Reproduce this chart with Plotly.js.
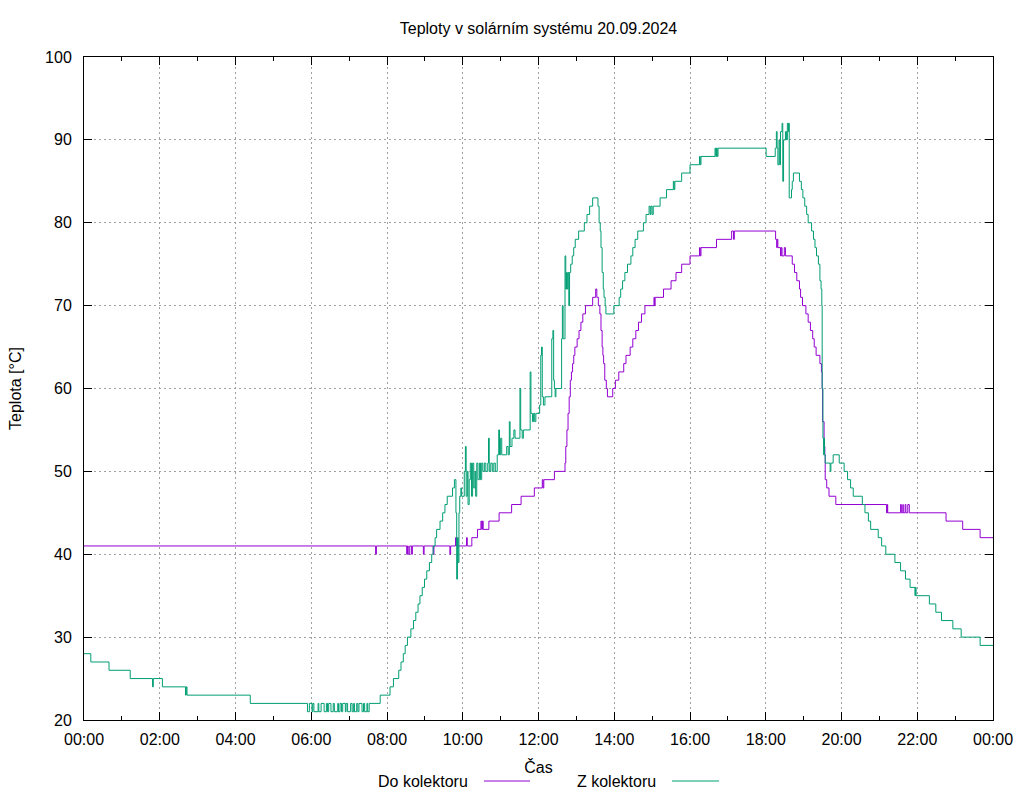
<!DOCTYPE html>
<html>
<head>
<meta charset="utf-8">
<script src="https://cdn.plot.ly/plotly-3.0.1.min.js"></script>
<style>html,body{margin:0;padding:0;background:#fff;}#chart{width:1024px;height:800px;}</style>
</head>
<body>
<div id="chart"></div>
<script>
// ---- data (time in decimal hours, temperature in °C) ----
const chartTitle = 'Teploty v solárním systému 20.09.2024';
const xTitle = 'Čas';
const yTitle = 'Teplota [°C]';
const seriesNames = ['Do kolektoru', 'Z kolektoru'];
const seriesColors = ['#9400d3', '#009e73'];
const yTicks = [20, 30, 40, 50, 60, 70, 80, 90, 100];

const doKolektoru = [
 [0,41],[7.70,40],[7.72,41],[8.52,40],[8.54,41],[8.56,40],[8.60,41],[8.65,40],[8.67,41],
 [8.96,40],[8.98,41],[9.22,40],[9.24,41],[9.66,40],[9.68,41],[9.81,42],[9.84,41],
 [10.10,42],[10.12,41],[10.24,42],[10.39,43],[10.48,44],[10.50,43],[10.52,44],[10.54,43],
 [10.69,44],[10.96,45],[11.29,46],[11.54,47],[11.89,48],[12.10,49],[12.12,48],[12.14,49],
 [12.42,50],[12.70,51],[12.72,53],[12.75,55],[12.78,57],[12.81,59],[12.84,61],[12.87,62],
 [12.90,63],[12.93,64],[12.96,65],[13.02,66],[13.07,67],[13.12,68],[13.17,69],[13.24,70],
 [13.43,71],[13.51,72],[13.54,71],[13.58,70],[13.62,69],[13.65,67],[13.68,65],[13.70,64],
 [13.72,63],[13.75,61],[13.79,60],[13.82,59],[13.96,60],[14.03,61],[14.12,62],[14.25,63],
 [14.31,64],[14.42,65],[14.49,66],[14.57,67],[14.64,68],[14.72,69],[14.81,70],[15.05,71],
 [15.06,70],[15.08,71],[15.30,72],[15.50,73],[15.63,74],[15.78,75],[16.00,76],[16.25,77],
 [16.27,76],[16.29,77],[16.70,78],[17.10,79],[17.15,78],[17.17,79],[18.26,78],[18.29,77],
 [18.30,78],[18.32,77],[18.39,76],[18.41,77],[18.43,76],[18.49,77],[18.52,76],[18.70,75],
 [18.76,74],[18.82,73],[18.89,72],[18.92,71],[18.97,70],[19.06,69],[19.12,68],[19.18,67],
 [19.24,66],[19.28,65],[19.33,64],[19.43,63],[19.47,62],[19.49,60],[19.50,56],[19.54,53],
 [19.56,52],[19.57,49],[19.61,48],[19.67,47],[19.85,46],[21.19,45],[21.21,46],[21.22,45],
 [21.56,46],[21.58,45],[21.62,46],[21.63,45],[21.68,46],[21.70,45],[21.75,46],[21.79,45],
 [22.76,44],[23.20,43],[23.66,42],[24.00,42]
];

const zKolektoru = [
 [0,28],[0.18,27],[0.66,26],[1.22,25],[1.81,24],[1.83,25],[2.07,24],[2.68,23],[2.70,24],
 [2.72,23],[4.39,22],[5.90,21],[5.95,22],[6.02,21],[6.04,22],[6.07,21],[6.18,22],[6.20,21],
 [6.26,22],[6.34,21],[6.40,22],[6.43,21],[6.46,22],[6.52,21],[6.58,22],[6.61,21],[6.70,22],
 [6.72,21],[6.76,22],[6.80,21],[6.83,22],[6.90,21],[6.92,22],[6.96,21],[7.04,22],[7.08,21],
 [7.12,22],[7.14,21],[7.20,22],[7.23,21],[7.26,22],[7.34,21],[7.38,22],[7.41,21],[7.47,22],
 [7.49,21],[7.53,22],[7.82,23],[8.08,24],
 [8.17,25],[8.31,26],[8.37,27],[8.43,28],[8.48,29],[8.54,30],[8.63,31],[8.70,32],[8.76,33],
 [8.82,34],[8.87,35],[8.93,36],[8.99,37],[9.05,38],[9.12,39],[9.18,40],[9.22,41],[9.27,42],
 [9.31,43],[9.40,44],[9.47,45],[9.53,46],[9.59,47],[9.73,48],[9.78,49],[9.82,45],[9.84,37],
 [9.86,42],[9.88,39],[9.90,45],[9.92,47],[9.95,48],[9.97,47],[10.04,50],[10.07,53],[10.09,47],
 [10.12,50],[10.14,46],[10.17,49],[10.20,51],[10.23,47],[10.26,51],[10.29,48],[10.32,50],
 [10.34,47],[10.37,51],[10.40,49],[10.44,51],[10.47,49],[10.50,51],[10.53,50],[10.57,51],
 [10.61,50],[10.66,51],[10.68,54],[10.70,50],[10.74,51],[10.78,50],[10.82,51],[10.86,50],
 [10.91,52],[10.95,55],[10.97,52],[11.00,54],[11.03,52],[11.16,53],[11.20,52],[11.23,56],
 [11.25,53],[11.30,54],[11.35,55],[11.38,54],[11.51,60],[11.53,55],[11.57,54],[11.60,55],
 [11.78,62],[11.80,57],[11.84,56],[11.87,57],[11.90,56],[11.93,57],[12.03,58],[12.06,64],
 [12.08,65],[12.10,59],[12.13,58],[12.17,59],[12.35,66],[12.38,67],[12.40,61],[12.42,60],
 [12.44,59],[12.46,60],[12.61,66],[12.63,70],[12.65,66],[12.70,76],[12.72,72],[12.74,74],
 [12.76,72],[12.78,74],[12.80,70],[12.82,74],[12.85,75],[12.89,76],[12.93,77],[12.97,78],
 [13.06,79],[13.21,80],[13.28,81],[13.35,82],[13.43,83],[13.57,82],[13.60,80],[13.63,79],
 [13.65,77],[13.68,74],[13.71,72],[13.73,71],[13.76,70],[13.78,69],[13.99,70],[14.13,71],
 [14.17,72],[14.22,73],[14.28,74],[14.35,75],[14.44,76],[14.49,77],[14.55,78],[14.62,79],
 [14.77,80],[14.84,81],[14.92,82],[14.95,81],[14.97,82],[15.00,81],[15.03,82],[15.21,83],
 [15.38,84],[15.56,85],[15.58,84],[15.60,85],[15.78,86],[16.00,87],[16.25,88],[16.27,87],
 [16.29,88],[16.66,89],[16.68,88],[16.70,89],[16.72,88],[16.74,89],[18.01,88],[18.25,89],
 [18.28,91],[18.30,89],[18.32,87],[18.35,90],[18.37,87],[18.39,91],[18.43,92],[18.45,85],
 [18.47,90],[18.52,91],[18.55,90],[18.57,92],[18.60,91],[18.61,92],[18.62,83],[18.68,84],
 [18.70,85],[18.73,86],[18.89,85],[18.94,84],[18.98,83],[19.03,82],[19.08,81],[19.12,80],
 [19.21,79],[19.26,78],[19.30,77],[19.34,76],[19.39,75],[19.43,73],[19.46,72],[19.48,70],
 [19.49,60],[19.51,54],[19.53,52],[19.54,54],[19.55,52],[19.57,51],[19.70,50],[19.72,51],
 [19.78,52],[19.94,51],[20.07,50],[20.16,49],[20.24,48],[20.31,47],[20.55,46],[20.62,45],
 [20.71,44],[20.77,43],[20.97,42],[21.06,41],[21.17,40],[21.41,39],[21.56,38],[21.69,37],
 [21.81,36],[21.94,35],[21.95,36],[21.97,35],[22.32,34],[22.49,33],[22.64,32],[22.94,31],
 [23.16,30],[23.66,29],[24.00,29]
];

// ---- helpers ----
const base = Date.UTC(2024, 8, 20);
function hToDate(h) {
  return new Date(base + Math.round(h * 3600000)).toISOString().slice(0, 19).replace('T', ' ');
}
const xStart = hToDate(0), xEnd = hToDate(24);

const traces = [doKolektoru, zKolektoru].map((s, i) => ({
  type: 'scatter', mode: 'lines', name: seriesNames[i],
  x: s.map(p => hToDate(p[0])), y: s.map(p => p[1]),
  line: {color: seriesColors[i], width: 1, shape: 'hv'},
  showlegend: false, hoverinfo: 'x+y'
}));

const L = 84, R = 993, T = 57, B = 720;
const px2x = px => (px - L) / (R - L);
const py2y = py => (B - py) / (B - T);
const legY = py2y(781);

const axisCommon = {
  showline: true, linecolor: '#000', linewidth: 1, mirror: 'ticks',
  ticks: 'inside', ticklen: 8, tickwidth: 1, tickcolor: '#000',
  showgrid: true, gridcolor: '#a0a0a0', gridwidth: 1, griddash: '2px,3px',
  zeroline: false, tickfont: {size: 16, color: '#000'}
};

const layout = {
  width: 1024, height: 800,
  margin: {l: L, r: 1024 - R, t: T, b: 800 - B},
  paper_bgcolor: '#fff', plot_bgcolor: '#fff',
  font: {family: 'Liberation Sans, Arial, sans-serif', size: 16, color: '#000'},
  title: {text: chartTitle, x: 0.5, xref: 'paper', xanchor: 'center', y: 1 - 28 / 800, yref: 'container', yanchor: 'middle', font: {size: 16, color: '#000'}},
  xaxis: Object.assign({}, axisCommon, {
    type: 'date', range: [xStart, xEnd], tickformat: '%H:%M', tick0: xStart, dtick: 7200000,
    ticklabelstandoff: 5,
    minor: {dtick: 3600000, ticks: 'inside', ticklen: 4, tickcolor: '#000', showgrid: false},
    title: {text: xTitle, standoff: 14, font: {size: 16}}
  }),
  yaxis: Object.assign({}, axisCommon, {
    range: [20, 100], tickvals: yTicks, ticktext: yTicks.map(String),
    ticklabelstandoff: 8,
    title: {text: yTitle, standoff: 19, font: {size: 16}}
  }),
  shapes: [
    {type: 'line', xref: 'paper', yref: 'paper', x0: px2x(484), x1: px2x(530), y0: legY, y1: legY, line: {color: seriesColors[0], width: 1}},
    {type: 'line', xref: 'paper', yref: 'paper', x0: px2x(672), x1: px2x(719), y0: legY, y1: legY, line: {color: seriesColors[1], width: 1}}
  ],
  annotations: [
    {xref: 'paper', yref: 'paper', x: px2x(470), y: legY, xanchor: 'right', yanchor: 'middle', text: seriesNames[0], showarrow: false, font: {size: 16, color: '#000'}},
    {xref: 'paper', yref: 'paper', x: px2x(658), y: legY, xanchor: 'right', yanchor: 'middle', text: seriesNames[1], showarrow: false, font: {size: 16, color: '#000'}}
  ]
};

Plotly.newPlot('chart', traces, layout, {displayModeBar: false, staticPlot: true});
</script>
</body>
</html>
